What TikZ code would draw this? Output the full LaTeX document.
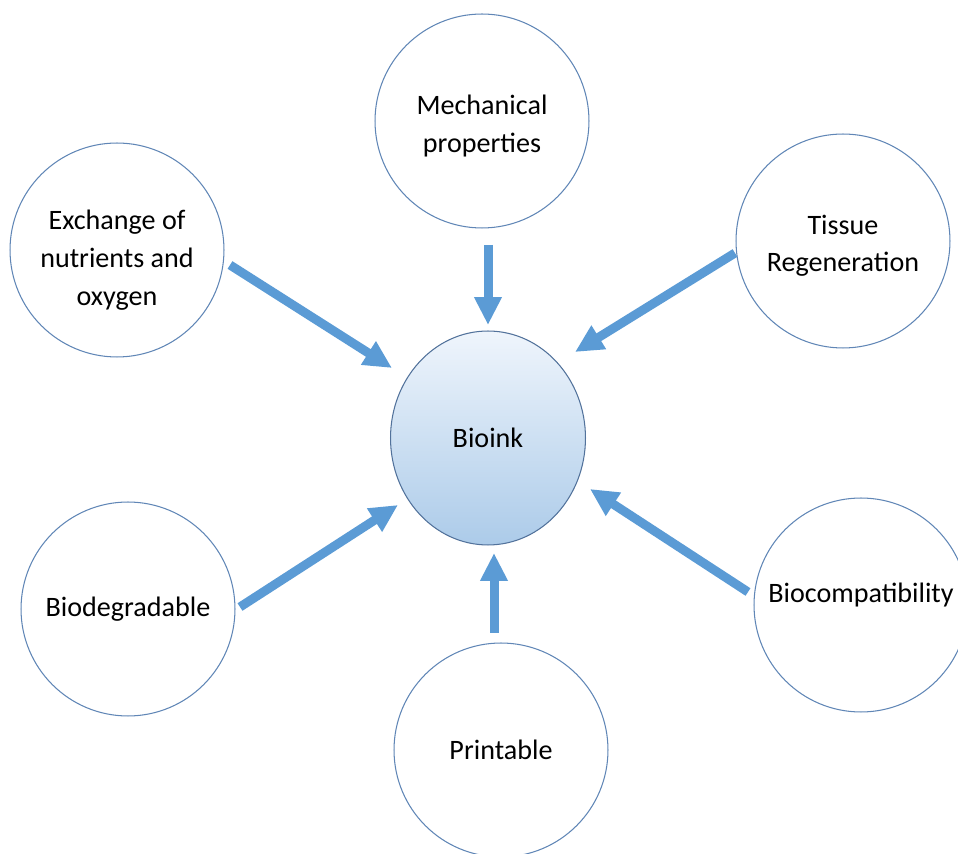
\documentclass[tikz,border=0pt]{standalone}
\usepackage{fontspec}
\setmainfont{Carlito}
\usetikzlibrary{arrows.meta,shapes.geometric}

\definecolor{ringblue}{RGB}{96,134,182}
\definecolor{flowblue}{RGB}{91,155,213}
\definecolor{inktop}{RGB}{239,245,252}
\definecolor{inkbot}{RGB}{172,203,233}

\tikzset{
  prop/.style={circle, draw=ringblue, line width=0.6pt, fill=white, minimum size=4.28cm,
    inner sep=0pt, align=center, font=\fontsize{16}{21.5}\selectfont},
  flow/.style={draw=flowblue, line width=0.18cm, -{Triangle[length=0.56cm,width=0.52cm]}}
}

\begin{document}
\begin{tikzpicture}[x=0.02cm, y=-0.02cm]
  \useasboundingbox (0,0) rectangle (958,854);

  % draw circles
  \node[prop] (mech) at (482,121) {\rule{0pt}{0.6cm}Mechanical\\properties};
  \node[prop] (exch) at (117,250) {\rule{0pt}{0.8cm}Exchange of\\nutrients and\\oxygen};
  \node[prop] (tissue) at (843,241) {\rule{0pt}{0.58cm}Tissue\\Regeneration};
  \node[prop] (biodeg) at (128,609) {Biodegradable};
  \node[prop] (print) at (501,750) {Printable};
  \node[prop] (biocomp) at (861,605) {\raisebox{0.5cm}{Biocompatibility}};

  % centre
  \node[ellipse, draw=ringblue!85!black, line width=0.6pt, top color=inktop, bottom color=inkbot,
    minimum width=3.9cm, minimum height=4.28cm, inner sep=0pt,
    font=\fontsize{16}{21.5}\selectfont] (bioink) at (488,438) {Bioink};

  % arrow ends
  \coordinate (mech-t) at (488,245);    \coordinate (mech-h) at (488,325);
  \coordinate (exch-t) at (230,265);    \coordinate (exch-h) at (392,368);
  \coordinate (tissue-t) at (735,253);  \coordinate (tissue-h) at (575,352);
  \coordinate (biodeg-t) at (240,607);  \coordinate (biodeg-h) at (398,505);
  \coordinate (print-t) at (494,633);   \coordinate (print-h) at (494,553);
  \coordinate (biocomp-t) at (748,592); \coordinate (biocomp-h) at (590,489);

  % draw arrows
  \foreach \n in {mech,exch,tissue,biodeg,print,biocomp}
    \draw[flow] (\n-t) -- (\n-h);
\end{tikzpicture}
\end{document}
